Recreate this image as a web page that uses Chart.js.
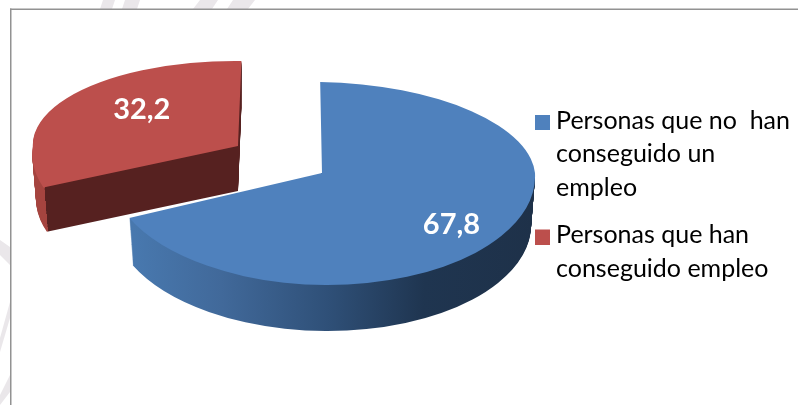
<!DOCTYPE html>
<html>
<head>
<meta charset="utf-8">
<style>
  body { margin: 0; background: #fff; }
  canvas { display: block; }
</style>
<script src="https://cdn.jsdelivr.net/npm/chart.js@4"></script>
</head>
<body>
<canvas id="pieChart" width="798" height="405"></canvas>
<script>
// Data
const categories = [
    ['Personas que no  han', 'conseguido un', 'empleo'],
    ['Personas que han', 'conseguido empleo']
];
const shares = [67.8, 32.2];

// Colours
const faceColors = ['#4f81bd', '#bc4f4c'];

// 3D look per slice: where the tip lands, squash and lean above/below the tip, wall depth
const sliceLook = [
    { tipX: 322, tipY: 173, sx: 1, up: 0.427, down: 0.526, upLean: 0.11, downLean: 0.05, wallFromTip: true, depth: 48, labelDx: 15, labelDy: 11 },
    { tipX: 238, tipY: 146, sx: 0.92, up: 0.381, down: 0.47, upLean: 0.035, downLean: -0.15, wallFromTip: false, depth: 45, labelDx: 14, labelDy: -8 }
];

// Grey watermark behind the chart frame
const watermark = [
    [[103, 0], [115, 0], [112, 9], [100, 9]],
    [[125, 0], [140, 0], [137, 9], [122, 9]],
    [[200, 0], [218, 0], [212, 9], [193, 9]],
    [[233, 0], [255, 0], [248, 9], [227, 9]],
    [[0, 240], [10, 247], [10, 265], [0, 255]],
    [[0, 338], [10, 302], [10, 318], [0, 352]],
    [[0, 395], [10, 375], [10, 392], [0, 405]]
];

function swatch(color) {
    const c = document.createElement('canvas');
    c.width = 15;
    c.height = 19;
    const g = c.getContext('2d');
    g.fillStyle = color;
    g.fillRect(0, 4, 15, 15);
    return c;
}

function wallFill(ctx, index, x0, r) {
    const g = ctx.createLinearGradient(x0 - r, 0, x0 + r, 0);
    if (index === 0) {
        g.addColorStop(0.05, '#4878ae');
        g.addColorStop(0.25, '#41699a');
        g.addColorStop(0.5, '#2f5078');
        g.addColorStop(0.73, '#1f3550');
        g.addColorStop(1, '#1e3149');
    } else {
        g.addColorStop(0, '#a5443f');
        g.addColorStop(0.043, '#a5443f');
        g.addColorStop(0.043, '#562120');
        g.addColorStop(1, '#562120');
    }
    return g;
}

// Draws the library's arc element, squashed differently above and below its tip
function paintArc(chart, arc, look, fill, drop, shrink) {
    const ctx = chart.ctx;
    const mid = (arc.startAngle + arc.endAngle) / 2;
    const off = arc.options.offset / 4;
    const flatX = arc.x + Math.cos(mid) * off;
    const flatY = arc.y + Math.sin(mid) * off;
    const copy = Object.create(arc, {
        options: { value: Object.create(arc.options, { backgroundColor: { value: fill } }) }
    });
    const splitY = look.tipY + drop;
    const topY = drop > 0 && look.wallFromTip ? look.tipY : 0;
    [[topY, splitY, look.up, look.upLean], [splitY, chart.height, look.down, look.downLean]].forEach(function(part) {
        const s = part[2] * shrink;
        ctx.save();
        ctx.beginPath();
        ctx.rect(0, part[0], chart.width, part[1] - part[0]);
        ctx.clip();
        ctx.translate(look.tipX, splitY);
        ctx.transform(look.sx * shrink, 0, part[3] * s, s, 0, 0);
        ctx.translate(-flatX, -flatY);
        copy.draw(ctx);
        ctx.restore();
    });
}

const backdrop = {
    id: 'backdrop',
    beforeDraw(chart) {
        const ctx = chart.ctx;
        ctx.save();
        ctx.fillStyle = '#fff';
        ctx.fillRect(0, 0, chart.width, chart.height);
        ctx.fillStyle = '#eae7ea';
        watermark.forEach(function(shape) {
            ctx.beginPath();
            shape.forEach(function(p, i) {
                if (i === 0) ctx.moveTo(p[0], p[1]); else ctx.lineTo(p[0], p[1]);
            });
            ctx.closePath();
            ctx.fill();
        });
        ctx.fillStyle = '#fff';
        ctx.fillRect(10, 9, chart.width, chart.height);
        ctx.fillStyle = '#929292';
        ctx.fillRect(10, 8.5, chart.width, 1.5);
        ctx.fillRect(10, 8.5, 1.5, chart.height);
        ctx.restore();
    }
};

const pie3d = {
    id: 'pie3d',
    beforeDatasetsDraw(chart) {
        const ctx = chart.ctx;
        const arcs = chart.getDatasetMeta(0).data;

        // Walls first, back to front, then the faces
        [1, 0].forEach(function(i) {
            const arc = arcs[i];
            const look = sliceLook[i];
            const mid = (arc.startAngle + arc.endAngle) / 2;
            const off = arc.options.offset / 4;
            const fix = 1 - Math.sin(Math.min(Math.PI, arc.circumference));
            const r = arc.outerRadius + off * fix;
            // arc.draw moves the origin by its own offset, so the gradient stays on arc.x
            const fill = wallFill(ctx, i, arc.x, r);
            for (let d = look.depth; d >= 1; d--) {
                paintArc(chart, arc, look, fill, d, 1 - 0.018 * d / look.depth);
            }
            paintArc(chart, arc, look, faceColors[i], 0, 1);

            // Value label
            const reach = r * look.sx * 0.65;
            const lx = look.tipX + Math.cos(mid) * reach + look.labelDx;
            const ly = look.tipY + Math.sin(mid) * reach * (i === 0 ? look.down : look.up) + look.labelDy;
            ctx.save();
            ctx.fillStyle = '#fff';
            ctx.font = 'bold 29px Lato';
            ctx.textAlign = 'center';
            ctx.textBaseline = 'middle';
            ctx.fillText(String(shares[i]).replace('.', ','), lx, ly);
            ctx.restore();
        });
        return false;
    }
};

new Chart(document.getElementById('pieChart'), {
    type: 'pie',
    data: {
        labels: categories,
        datasets: [{
            data: shares,
            backgroundColor: faceColors,
            borderWidth: 0,
            offset: [0, 396]
        }]
    },
    options: {
        responsive: false,
        animation: false,
        radius: 213,
        cutout: '0%',
        rotation: 2.2,
        layout: { padding: { top: 94, right: -2 } },
        plugins: {
            tooltip: { enabled: false },
            legend: {
                position: 'right',
                align: 'start',
                labels: {
                    usePointStyle: true,
                    pointStyleWidth: 2,
                    padding: 14,
                    color: '#111',
                    font: { family: 'Lato', size: 25, lineHeight: 1.34 },
                    generateLabels(chart) {
                        return categories.map(function(text, i) {
                            return { text: text, fillStyle: faceColors[i], pointStyle: swatch(faceColors[i]), lineWidth: 0, index: i };
                        });
                    }
                }
            }
        }
    },
    plugins: [backdrop, pie3d]
});
</script>
</body>
</html>
